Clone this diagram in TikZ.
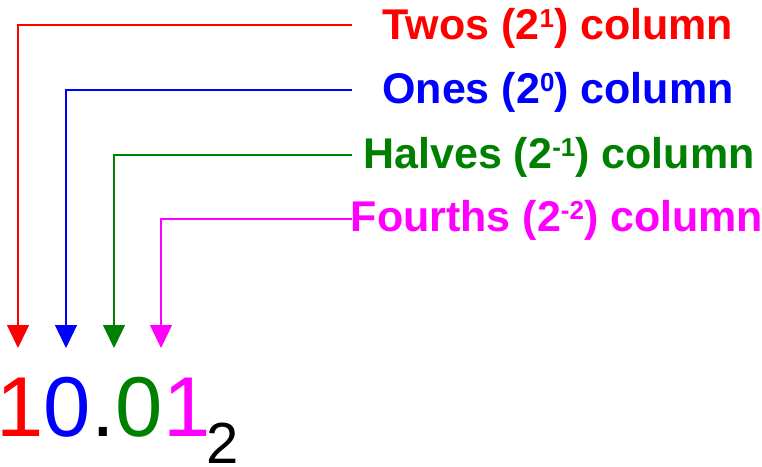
\documentclass[tikz,border=0pt]{standalone}
\usepackage{fontspec}
\setmainfont{Liberation Sans}
\usetikzlibrary{arrows.meta}
\definecolor{cRed}{RGB}{255,0,0}
\definecolor{cBlue}{RGB}{0,0,255}
\definecolor{cGreen}{RGB}{0,128,0}
\definecolor{cMag}{RGB}{255,0,255}
\newcommand\mysupx[1]{\raisebox{12pt}{\fontsize{26}{26}\selectfont #1}}
\tikzset{
  lbl/.style={inner sep=0pt, anchor=base, font=\fontsize{43}{48}\selectfont\bfseries},
  dig/.style={inner sep=0pt, anchor=base west, font=\fontsize{85}{90}\selectfont},
  conn/.style={line width=1.3pt, -{Triangle[width=22pt,length=23pt]}},
}
\begin{document}
\begin{tikzpicture}[x=1pt,y=-1pt]
\useasboundingbox (0,0) rectangle (762,466);
% labels
\node[lbl, text=cRed]   (tw) at (558,39)  {Twos (2\mysupx{1}) column};
\node[lbl, text=cBlue]  (on) at (558,103) {Ones (2\mysupx{0}) column};
\node[lbl, text=cGreen] (ha) at (559,168) {Halves (2\mysupx{-1}) column};
\node[lbl, text=cMag]   (fo) at (557,231) {Fourths (2\mysupx{-2}) column};
% number
\node[dig, text=cRed]   (d1) at (-4,436) {1};
\node[dig, text=cBlue]  (d2) at (d1.base east) {0};
\node[dig, text=black]  (dp) at (d2.base east) {.};
\node[dig, text=cGreen] (d3) at (dp.base east) {0};
\node[dig, text=cMag]   (d4) at (d3.base east) {1};
\node[inner sep=0pt, anchor=base west, font=\fontsize{58}{60}\selectfont] (sb) at (206,463) {2};
% connector ends
\coordinate (twin) at (352,25);
\coordinate (onin) at (352,90);
\coordinate (hain) at (352,155);
\coordinate (foin) at (352,219);
\coordinate (twtip) at (18,348);
\coordinate (ontip) at (66,348);
\coordinate (hatip) at (114,348);
\coordinate (fotip) at (161,348);
\draw[conn, cRed]   (twin) -| (twtip);
\draw[conn, cBlue]  (onin) -| (ontip);
\draw[conn, cGreen] (hain) -| (hatip);
\draw[conn, cMag]   (foin) -| (fotip);
\end{tikzpicture}
\end{document}
